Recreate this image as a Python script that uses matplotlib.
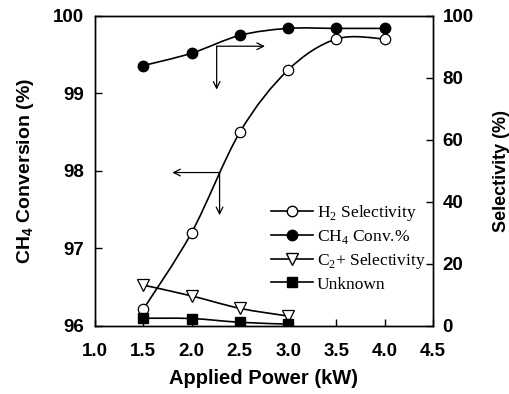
import matplotlib
matplotlib.use("Agg")
import matplotlib.pyplot as plt
from matplotlib.path import Path
from matplotlib.patches import PathPatch
from matplotlib.lines import Line2D

plt.rcParams['font.family'] = ['Liberation Sans', 'DejaVu Sans']
# serif for the legend subscripts, bold sans for the axis label subscript
plt.rcParams['mathtext.fontset'] = 'custom'
plt.rcParams['mathtext.rm'] = 'Liberation Serif'
plt.rcParams['mathtext.bf'] = 'Liberation Sans:bold'

# data
power = [1.5, 2.0, 2.5, 3.0, 3.5, 4.0]
ch4_conv = [99.36, 99.52, 99.75, 99.84, 99.84, 99.84]
h2_sel = [5.4, 30.1, 62.5, 82.6, 92.6, 92.6]
power_short = [1.5, 2.0, 2.5, 3.0]
c2_sel = [13.2, 9.7, 5.7, 3.2]
unknown = [2.5, 2.4, 1.2, 0.6]


def smooth_path(xs, ys):
    # Catmull-Rom curve through the points, drawn as cubic Bezier pieces
    pts = list(zip(xs, ys))
    verts = [pts[0]]
    codes = [Path.MOVETO]
    n = len(pts)
    for i in range(n - 1):
        p0 = pts[max(i - 1, 0)]
        p1 = pts[i]
        p2 = pts[i + 1]
        p3 = pts[min(i + 2, n - 1)]
        c1 = (p1[0] + (p2[0] - p0[0]) / 6, p1[1] + (p2[1] - p0[1]) / 6)
        c2 = (p2[0] - (p3[0] - p1[0]) / 6, p2[1] - (p3[1] - p1[1]) / 6)
        verts += [c1, c2, p2]
        codes += [Path.CURVE4] * 3
    return Path(verts, codes)


fig = plt.figure(figsize=(5.09, 3.94), dpi=100)
ax = fig.add_axes([0.1866, 0.1726, 0.6641, 0.7868])
ax2 = ax.twinx()

lw = 1.2
ms = 7.5

# CH4 conversion on left axis
ax.add_patch(PathPatch(smooth_path(power, ch4_conv), fill=False, lw=lw, color='k'))
ax.plot(power, ch4_conv, ls='none', marker='o', ms=ms, mfc='k', mec='k', zorder=5)

# selectivities on right axis
ax2.add_patch(PathPatch(smooth_path(power, h2_sel), fill=False, lw=lw, color='k'))
ax2.plot(power, h2_sel, ls='none', marker='o', ms=ms, mfc='white', mec='k', mew=0.9, zorder=5)
ax2.add_patch(PathPatch(smooth_path(power_short, c2_sel), fill=False, lw=lw, color='k'))
ax2.plot(power_short, c2_sel, ls='none', marker='v', ms=ms + 1, mfc='white', mec='k', mew=0.9, zorder=5)
ax2.add_patch(PathPatch(smooth_path(power_short, unknown), fill=False, lw=lw, color='k'))
ax2.plot(power_short, unknown, ls='none', marker='s', ms=ms - 0.5, mfc='k', mec='k', zorder=6)

ax.set_xlim(1.0, 4.5)
ax.set_ylim(96, 100)
ax2.set_ylim(0, 100)
ax.set_xticks([1.0, 1.5, 2.0, 2.5, 3.0, 3.5, 4.0, 4.5])
ax.set_xticklabels(['1.0', '1.5', '2.0', '2.5', '3.0', '3.5', '4.0', '4.5'])
ax.set_yticks([96, 97, 98, 99, 100])
ax2.set_yticks([0, 20, 40, 60, 80, 100])

for a in (ax, ax2):
    a.tick_params(direction='in', length=5, width=1, labelsize=13.5)
    for lab in a.get_xticklabels() + a.get_yticklabels():
        lab.set_fontweight('bold')
    for s in a.spines.values():
        s.set_linewidth(1)
ax.tick_params(axis='x', pad=12)
ax.tick_params(axis='y', pad=8)
ax2.tick_params(axis='y', pad=7)

ax.set_xlabel('Applied Power (kW)', fontsize=14.5, fontweight='bold', labelpad=7)
ax.set_ylabel(r'CH$_\mathbf{4}$ Conversion (%)', fontsize=14, fontweight='bold', labelpad=12)
ax2.set_ylabel('Selectivity (%)', fontsize=13, fontweight='bold', labelpad=14)

# direction arrows
akw = dict(arrowstyle='->', lw=0.9, color='k', shrinkA=0, shrinkB=0, mutation_scale=12)
ax.annotate('', xy=(2.76, 99.61), xytext=(2.26, 99.61), arrowprops=akw)
ax.annotate('', xy=(2.26, 99.05), xytext=(2.26, 99.61), arrowprops=akw)
ax.annotate('', xy=(1.80, 97.98), xytext=(2.29, 97.98), arrowprops=akw)
ax.annotate('', xy=(2.29, 97.43), xytext=(2.29, 97.98), arrowprops=akw)

handles = [
    Line2D([], [], color='k', lw=lw, marker='o', ms=ms, mfc='white', mec='k'),
    Line2D([], [], color='k', lw=lw, marker='o', ms=ms, mfc='k', mec='k'),
    Line2D([], [], color='k', lw=lw, marker='v', ms=ms + 1, mfc='white', mec='k'),
    Line2D([], [], color='k', lw=lw, marker='s', ms=ms - 0.5, mfc='k', mec='k'),
]
labels = ['H$_2$ Selectivity', 'CH$_4$ Conv.%', 'C$_2$+ Selectivity', 'Unknown']
leg = ax2.legend(handles, labels, loc='upper left', bbox_to_anchor=(0.5, 0.42),
                 frameon=False, handlelength=2.4, handletextpad=0.25,
                 labelspacing=0.3, borderaxespad=0,
                 prop={'family': 'Liberation Serif', 'size': 12.5})

fig.savefig('out.png', dpi=100)
